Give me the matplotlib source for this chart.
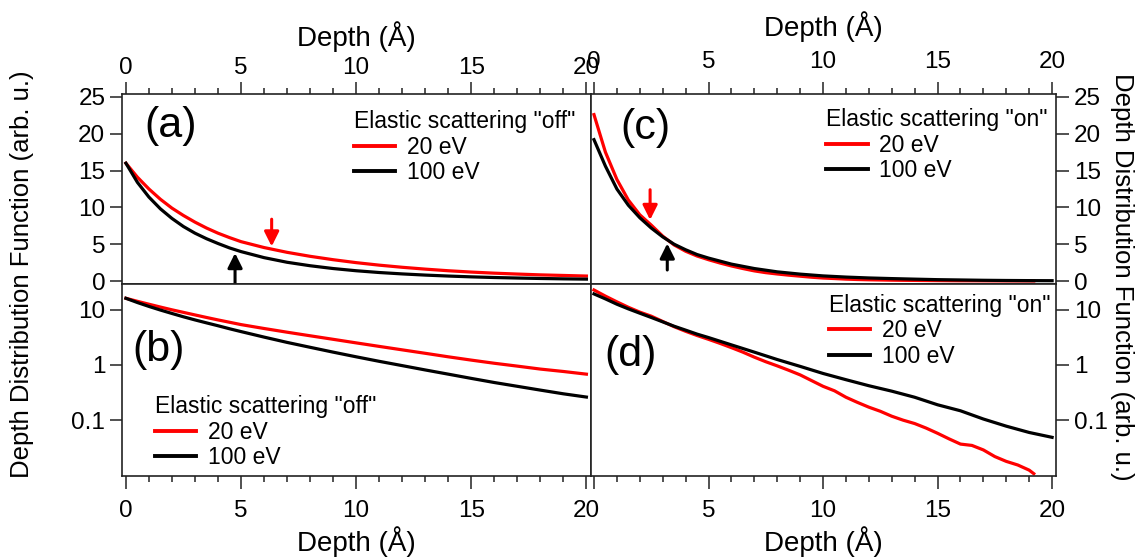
import numpy as np
import matplotlib.pyplot as plt
from matplotlib.ticker import MultipleLocator, NullLocator, FixedLocator, FuncFormatter
from matplotlib.lines import Line2D

plt.rcParams['font.family'] = ['Liberation Sans', 'DejaVu Sans']

# depth grid (Angstrom)
depth = [0, 0.5, 1, 1.5, 2, 2.5, 3, 3.5, 4, 4.5, 5, 6, 7, 8, 9, 10,
         11, 12, 13, 14, 15, 16, 17, 18, 19, 20]

# elastic scattering "off"
red_off = [16.0, 14.1, 12.5, 11.1, 9.9, 8.9, 8.0, 7.2, 6.5, 5.9, 5.35, 4.55, 3.9, 3.36, 2.9, 2.5,
           2.16, 1.87, 1.62, 1.40, 1.22, 1.07, 0.95, 0.84, 0.76, 0.68]
black_off = [16.0, 13.4, 11.4, 9.8, 8.5, 7.4, 6.5, 5.75, 5.1, 4.5, 4.0, 3.18, 2.55, 2.08, 1.70, 1.40,
             1.16, 0.97, 0.81, 0.68, 0.57, 0.48, 0.41, 0.35, 0.30, 0.262]

# elastic scattering "on"
depth_red_on = [0, 0.5, 1, 1.5, 2, 2.5, 3, 3.5, 4, 4.5, 5, 5.5, 6, 6.5, 7, 7.5, 8, 8.5, 9, 9.5,
                10, 10.5, 11, 11.5, 12, 12.5, 13, 13.5, 14, 14.5, 15, 15.5, 16, 16.5, 17, 17.5,
                18, 18.5, 19, 19.2]
red_on = [22.6, 17.5, 13.8, 11.0, 9.0, 7.6, 6.1, 4.9, 4.05, 3.4, 2.9, 2.45, 2.05, 1.7, 1.38, 1.14,
          0.96, 0.8, 0.66, 0.52, 0.41, 0.34, 0.26, 0.21, 0.172, 0.145, 0.118, 0.100, 0.087, 0.072,
          0.058, 0.046, 0.037, 0.035, 0.029, 0.022, 0.018, 0.0155, 0.0125, 0.0108]
black_on = [19.2, 15.6, 12.5, 10.3, 8.6, 7.2, 6.0, 5.0, 4.25, 3.6, 3.12, 2.3, 1.70, 1.25, 0.94, 0.70,
            0.54, 0.42, 0.335, 0.26, 0.19, 0.148, 0.105, 0.078, 0.060, 0.049]

# arrows: (x, y_start, y_end, colour)
arrows_a = [(6.33, 8.4, 4.7, 'red'), (4.74, -0.3, 3.8, 'black')]
arrows_c = [(2.45, 12.4, 8.3, 'red'), (3.2, 1.5, 5.1, 'black')]

W, H = 1136, 560
fig = plt.figure(figsize=(W / 100, H / 100), dpi=100)


def box(x0, y0, x1, y1):
    return [x0 / W, 1 - y1 / H, (x1 - x0) / W, (y1 - y0) / H]


ax_a = fig.add_axes(box(122, 94, 591, 284))
ax_b = fig.add_axes(box(122, 284, 591, 476))
ax_c = fig.add_axes(box(591, 94, 1056, 284))
ax_d = fig.add_axes(box(591, 284, 1056, 476))

lw = 2.3
ax_a.plot(depth, red_off, color='red', lw=lw)
ax_a.plot(depth, black_off, color='black', lw=lw)
ax_b.plot(depth, red_off, color='red', lw=lw)
ax_b.plot(depth, black_off, color='black', lw=lw)
ax_c.plot(depth_red_on, red_on, color='red', lw=lw)
ax_c.plot(depth, black_on, color='black', lw=lw)
ax_d.plot(depth_red_on, red_on, color='red', lw=lw)
ax_d.plot(depth, black_on, color='black', lw=lw)

for ax in (ax_a, ax_b, ax_c, ax_d):
    for s in ax.spines.values():
        s.set_linewidth(1.2)
        s.set_color('#222222')
    ax.xaxis.set_major_locator(MultipleLocator(5))
    ax.xaxis.set_minor_locator(MultipleLocator(1))
    ax.tick_params(which='major', length=9, width=1.1, labelsize=17.5, direction='out', color='#222222')
    ax.tick_params(which='minor', length=4.5, width=1.1, direction='out', color='#222222')

ax_a.set_xlim(-0.17, 20.2)
ax_b.set_xlim(-0.17, 20.2)
ax_c.set_xlim(-0.13, 20.17)
ax_d.set_xlim(-0.13, 20.17)

for ax in (ax_a, ax_c):
    ax.set_ylim(-0.4, 25.4)
    ax.yaxis.set_major_locator(MultipleLocator(5))
    ax.xaxis.tick_top()
    ax.xaxis.set_label_position('top')
    ax.set_xlabel('Depth (Å)', fontsize=20)
for ax in (ax_b, ax_d):
    ax.set_yscale('log')
    ax.set_ylim(0.0098, 29)
    ax.yaxis.set_major_locator(FixedLocator([0.1, 1, 10]))
    ax.set_yticklabels(['0.1', '1', '10'])
    ax.yaxis.set_minor_locator(NullLocator())
    ax.set_xlabel('Depth (Å)', fontsize=20, labelpad=3)
    ax.tick_params(axis='x', which='major', pad=8)

# the left panel's "20" covers the bottom-right "0"
ax_d.xaxis.set_major_formatter(FuncFormatter(lambda v, p: '' if v == 0 else f'{v:g}'))

ax_a.tick_params(axis='x', which='major', pad=2)
ax_a.xaxis.labelpad = 8
ax_c.tick_params(axis='x', which='major', pad=6)
ax_c.xaxis.labelpad = 11
for ax in (ax_a, ax_b):
    ax.tick_params(axis='y', pad=3)
for ax in (ax_c, ax_d):
    ax.yaxis.tick_right()
    ax.tick_params(axis='y', pad=4)

# arrows
for ax, arr in ((ax_a, arrows_a), (ax_c, arrows_c)):
    for x, y0, y1, c in arr:
        ax.annotate('', xy=(x, y1), xytext=(x, y0),
                    arrowprops=dict(arrowstyle='-|>', color=c, lw=2.2, mutation_scale=22,
                                    shrinkA=0, shrinkB=0))

# panel letters
for ax, lab, x, y in ((ax_a, '(a)', 0.104, 0.83), (ax_b, '(b)', 0.079, 0.656),
                      (ax_c, '(c)', 0.118, 0.821), (ax_d, '(d)', 0.086, 0.63)):
    ax.text(x, y, lab, transform=ax.transAxes, fontsize=31, ha='center', va='center')

# legends
handles = [Line2D([], [], color='red', lw=2.8), Line2D([], [], color='black', lw=2.8)]
labels = ['20 eV', '100 eV']
for ax, title, x, y in ((ax_a, 'Elastic scattering "off"', 0.495, 0.915),
                        (ax_b, 'Elastic scattering "off"', 0.07, 0.42),
                        (ax_c, 'Elastic scattering "on"', 0.506, 0.925),
                        (ax_d, 'Elastic scattering "on"', 0.512, 0.95)):
    leg = ax.legend(handles, labels, title=title, loc='upper left', bbox_to_anchor=(x, y),
                    frameon=False, alignment='left', fontsize=16.5, title_fontsize=16.5,
                    handlelength=1.8, handletextpad=0.5, borderpad=0, borderaxespad=0,
                    labelspacing=0.1)
    leg._legend_box.sep = 2

fig.text(22 / W, 1 - 274 / H, 'Depth Distribution Function (arb. u.)', rotation=90,
         fontsize=18.5, ha='center', va='center')
fig.text(1122 / W, 1 - 277 / H, 'Depth Distribution Function (arb. u.)', rotation=-90,
         fontsize=18.5, ha='center', va='center')

fig.savefig('out.png', dpi=100)
